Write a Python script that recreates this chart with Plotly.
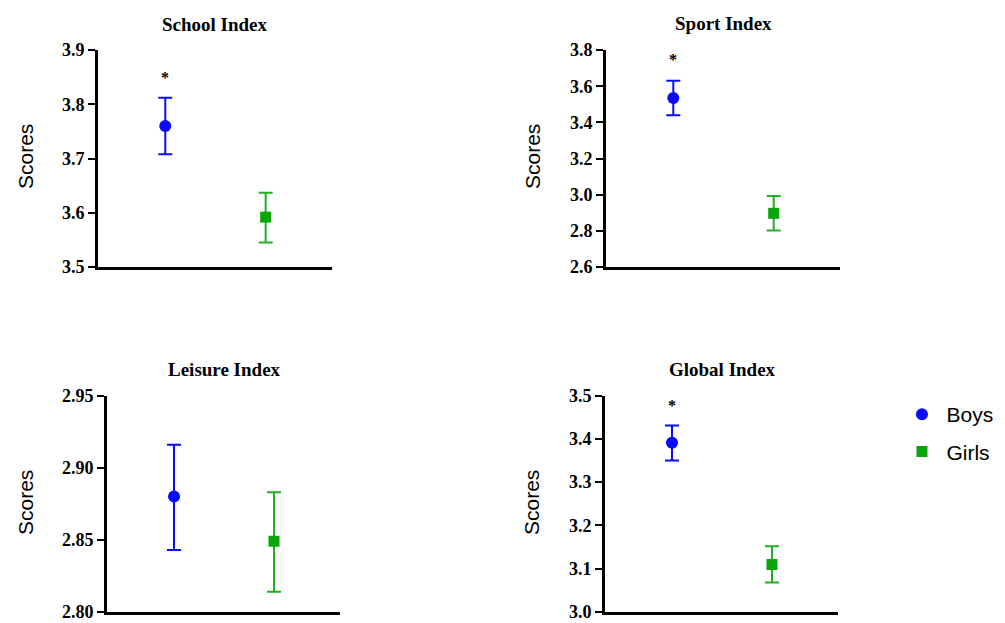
import plotly.graph_objects as go

panels = ["School Index", "Sport Index", "Leisure Index", "Global Index"]
groups = ["Boys", "Girls"]

boys_mean = [3.760, 3.535, 2.880, 3.391]
boys_upper = [3.812, 3.630, 2.916, 3.431]
boys_lower = [3.708, 3.439, 2.843, 3.350]

girls_mean = [3.592, 2.897, 2.849, 3.110]
girls_upper = [3.637, 2.993, 2.883, 3.152]
girls_lower = [3.545, 2.802, 2.814, 3.068]

star_y = [3.850, 3.748, None, 3.478]

y_ranges = [[3.5, 3.9], [2.6, 3.8], [2.80, 2.95], [3.0, 3.5]]
y_dtick = [0.1, 0.2, 0.05, 0.1]
y_fmt = [".1f", ".1f", ".2f", ".1f"]

BLUE = "#0a0aff"
GREEN = "#0aa50a"
GREEN_BAR = "#22b022"

x_domains = [[0.0975, 0.3303], [0.603, 0.8358], [0.1065, 0.3383], [0.602, 0.8338]]
y_domains = [[0.5714, 0.9197], [0.5714, 0.9197], [0.0177, 0.3649], [0.0177, 0.3649]]

title_pos = [(215, 24), (723, 23), (224, 369), (722, 369)]
ylab_pos = [(25, 157), (532, 157), (25, 503), (531, 503)]

fig = go.Figure()
W, H = 1005, 623

for i in range(4):
    xa = "x" if i == 0 else f"x{i+1}"
    ya = "y" if i == 0 else f"y{i+1}"
    fig.add_trace(go.Scatter(
        x=[0], y=[boys_mean[i]], xaxis=xa, yaxis=ya, mode="markers",
        marker=dict(symbol="circle", size=12, color=BLUE),
        error_y=dict(type="data", symmetric=False,
                     array=[boys_upper[i] - boys_mean[i]],
                     arrayminus=[boys_mean[i] - boys_lower[i]],
                     color=BLUE, thickness=2, width=7),
        name=groups[0], legendgroup="b", showlegend=(i == 0)))
    fig.add_trace(go.Scatter(
        x=[1], y=[girls_mean[i]], xaxis=xa, yaxis=ya, mode="markers",
        marker=dict(symbol="square", size=11, color=GREEN),
        error_y=dict(type="data", symmetric=False,
                     array=[girls_upper[i] - girls_mean[i]],
                     arrayminus=[girls_mean[i] - girls_lower[i]],
                     color=GREEN_BAR, thickness=2, width=7),
        name=groups[1], legendgroup="g", showlegend=(i == 0)))

    xkey = "xaxis" if i == 0 else f"xaxis{i+1}"
    ykey = "yaxis" if i == 0 else f"yaxis{i+1}"
    fig.update_layout(**{
        xkey: dict(domain=x_domains[i], range=[-0.67, 1.66], anchor=ya,
                   showgrid=False, zeroline=False, showticklabels=False,
                   ticks="", showline=True, linecolor="black", linewidth=3,
                   automargin=False, fixedrange=True),
        ykey: dict(domain=y_domains[i], range=y_ranges[i], anchor=xa,
                   dtick=y_dtick[i], tick0=y_ranges[i][0], tickformat=y_fmt[i],
                   showgrid=False, zeroline=False, showline=True,
                   linecolor="black", linewidth=3, ticks="outside",
                   ticklen=7, tickwidth=2, tickcolor="black",
                   automargin=False, fixedrange=True,
                   tickfont=dict(family="Liberation Serif", size=18,
                                 color="black", weight="bold")),
    })

    fig.add_annotation(text=panels[i], xref="paper", yref="paper",
                       x=title_pos[i][0] / W, y=1 - title_pos[i][1] / H,
                       showarrow=False, xanchor="center", yanchor="middle",
                       font=dict(family="Liberation Serif", size=19,
                                 color="black", weight="bold"))
    fig.add_annotation(text="Scores", xref="paper", yref="paper",
                       x=ylab_pos[i][0] / W, y=1 - ylab_pos[i][1] / H,
                       showarrow=False, textangle=-90,
                       xanchor="center", yanchor="middle",
                       font=dict(family="Liberation Sans", size=21,
                                 color="black"))
    if star_y[i] is not None:
        fig.add_annotation(text="*", xref=xa, yref=ya, x=0, y=star_y[i],
                           showarrow=False, yanchor="middle",
                           font=dict(family="Liberation Serif", size=16,
                                     color="black", weight="bold"))

fig.update_layout(
    width=W, height=H, margin=dict(l=0, r=0, t=0, b=0, autoexpand=False),
    plot_bgcolor="white", paper_bgcolor="white",
    showlegend=True,
    legend=dict(x=0.893, y=1 - 394 / H, xanchor="left", yanchor="top",
                font=dict(family="Liberation Sans", size=21, color="black"),
                traceorder="grouped", tracegroupgap=7, itemwidth=39,
                bgcolor="rgba(0,0,0,0)"),
)

fig.write_html("out.html",
               config={"displayModeBar": False},
               post_script="document.body.style.margin='0';"
                           "document.body.style.overflow='hidden';")
